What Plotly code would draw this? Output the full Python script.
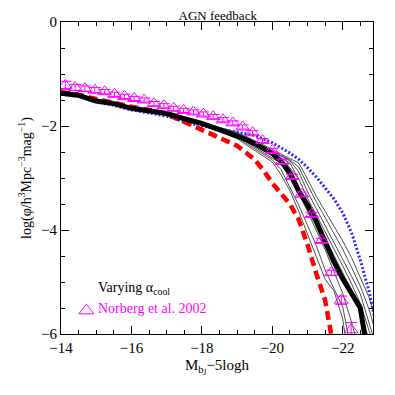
import plotly.graph_objects as go

# model magnitude grid (M_bJ - 5 log h)
mags = [-14.0, -14.5, -15.0, -15.5, -16.0, -16.5, -17.0, -17.5, -18.0, -18.5,
        -19.0, -19.25, -19.5, -19.75, -20.0, -20.25, -20.5, -20.75, -21.0,
        -21.25, -21.5, -21.75, -22.0, -22.25, -22.5, -22.75, -23.0]

# fiducial model (thick black)
lf_fiducial = [-1.37, -1.41, -1.52, -1.57, -1.66, -1.71, -1.76, -1.86, -1.95, -2.07,
               -2.19, -2.26, -2.34, -2.43, -2.53, -2.68, -2.90, -3.25, -3.52,
               -3.84, -4.25, -4.61, -4.94, -5.23, -5.50, -6.55, -7.50]

# red dashed model
lf_red = [-1.35, -1.40, -1.48, -1.56, -1.63, -1.69, -1.77, -1.92, -2.07, -2.22,
          -2.38, -2.51, -2.65, -2.85, -3.10, -3.30, -3.50, -3.80, -4.28,
          -4.84, -5.35, -6.30, -7.20, -8.0, -8.0, -8.0, -8.0]

# blue dotted model
lf_blue = [-1.39, -1.43, -1.54, -1.60, -1.69, -1.75, -1.81, -1.92, -2.00, -2.06,
           -2.12, -2.15, -2.18, -2.25, -2.32, -2.42, -2.52, -2.64, -2.80,
           -2.98, -3.18, -3.40, -3.67, -4.05, -4.58, -5.18, -6.00]

# thin lines: varying alpha_cool
lf_alpha = [
    [-1.37, -1.42, -1.53, -1.58, -1.67, -1.72, -1.78, -1.89, -1.99, -2.11,
     -2.24, -2.36, -2.47, -2.58, -2.69, -2.94, -3.24, -3.64, -4.09,
     -4.53, -4.95, -5.17, -5.71, -6.90, -8.0, -8.0, -8.0],
    [-1.37, -1.42, -1.52, -1.58, -1.67, -1.72, -1.77, -1.88, -1.98, -2.10,
     -2.22, -2.33, -2.44, -2.54, -2.65, -2.84, -3.17, -3.52, -3.91,
     -4.30, -4.77, -5.12, -5.48, -6.35, -7.20, -8.0, -8.0],
    [-1.37, -1.41, -1.52, -1.57, -1.66, -1.71, -1.77, -1.87, -1.97, -2.09,
     -2.20, -2.30, -2.41, -2.51, -2.62, -2.72, -3.01, -3.29, -3.64,
     -4.01, -4.38, -4.80, -5.22, -5.77, -6.35, -7.0, -8.0],
    [-1.36, -1.41, -1.52, -1.57, -1.66, -1.71, -1.76, -1.86, -1.96, -2.07,
     -2.18, -2.27, -2.37, -2.46, -2.55, -2.65, -2.80, -3.17, -3.52,
     -3.83, -4.15, -4.48, -4.82, -5.16, -5.60, -6.10, -7.0],
    [-1.36, -1.41, -1.51, -1.57, -1.65, -1.70, -1.76, -1.85, -1.95, -2.06,
     -2.16, -2.25, -2.34, -2.43, -2.52, -2.62, -2.71, -3.02, -3.39,
     -3.71, -4.03, -4.35, -4.69, -5.03, -5.41, -5.94, -6.50],
    [-1.36, -1.40, -1.51, -1.56, -1.65, -1.70, -1.75, -1.85, -1.94, -2.05,
     -2.15, -2.23, -2.32, -2.41, -2.50, -2.58, -2.67, -2.88, -3.26,
     -3.59, -3.91, -4.23, -4.56, -4.89, -5.23, -5.77, -6.35],
    [-1.36, -1.40, -1.51, -1.56, -1.65, -1.70, -1.75, -1.84, -1.93, -2.04,
     -2.13, -2.22, -2.30, -2.39, -2.48, -2.56, -2.65, -2.79, -3.13,
     -3.46, -3.76, -4.07, -4.37, -4.72, -5.08, -5.53, -6.12],
    [-1.35, -1.40, -1.50, -1.56, -1.64, -1.69, -1.74, -1.84, -1.93, -2.03,
     -2.12, -2.20, -2.28, -2.37, -2.45, -2.54, -2.62, -2.71, -3.02,
     -3.35, -3.64, -3.92, -4.21, -4.53, -4.92, -5.30, -5.88],
]

# Norberg et al. 2002 data
norberg_mag = [-14.12, -14.40, -14.68, -14.96, -15.24, -15.52, -15.80, -16.08,
               -16.36, -16.64, -16.92, -17.20, -17.48, -17.76, -18.04, -18.32,
               -18.60, -18.88, -19.16, -19.44, -19.72, -20.00, -20.28, -20.56,
               -20.84, -21.12, -21.40, -21.68, -21.96, -22.24]
norberg_phi = [-1.22, -1.26, -1.28, -1.31, -1.34, -1.39, -1.43, -1.47,
               -1.50, -1.57, -1.61, -1.66, -1.70, -1.73, -1.77, -1.82,
               -1.88, -1.94, -2.02, -2.13, -2.28, -2.47, -2.68, -2.97,
               -3.31, -3.70, -4.20, -4.82, -5.35, -5.92]
norberg_err = [0.08, 0.06, 0.05, 0.05, 0.04, 0.04, 0.04, 0.04,
               0.04, 0.04, 0.04, 0.04, 0.04, 0.04, 0.04, 0.04,
               0.04, 0.04, 0.04, 0.04, 0.04, 0.04, 0.04, 0.04,
               0.04, 0.04, 0.04, 0.05, 0.08, 0.14]

legend_key_mag = [-14.72]
legend_key_phi = [-5.55]

SERIF = "Liberation Serif, Times New Roman, serif"
MAGENTA = "#ff00ff"

fig = go.Figure()

for ys in lf_alpha:
    fig.add_trace(go.Scatter(x=mags, y=ys, mode="lines",
                             line=dict(color="#505050", width=1)))

fig.add_trace(go.Scatter(x=mags, y=lf_blue, mode="lines",
                         line=dict(color="#2a2aff", width=3, dash="2px,2px")))
fig.add_trace(go.Scatter(x=mags, y=lf_red, mode="lines",
                         line=dict(color="#ff0000", width=4.5, dash="9px,5px")))
fig.add_trace(go.Scatter(x=mags, y=lf_fiducial, mode="lines",
                         line=dict(color="black", width=5)))

fig.add_trace(go.Scatter(
    x=norberg_mag, y=norberg_phi, mode="markers",
    marker=dict(symbol="triangle-up-open", size=12, color=MAGENTA,
                line=dict(width=1, color=MAGENTA)),
    error_y=dict(type="data", array=norberg_err, color=MAGENTA,
                 thickness=1, width=6),
    cliponaxis=True,
))
fig.add_trace(go.Scatter(
    x=legend_key_mag, y=legend_key_phi, mode="markers",
    marker=dict(symbol="triangle-up-open", size=13, color=MAGENTA,
                line=dict(width=1, color=MAGENTA)),
))

fig.add_annotation(x=-15.0, y=-5.12, xref="x", yref="y", xanchor="left",
                   yanchor="middle", showarrow=False,
                   text="Varying α<sub>cool</sub>",
                   font=dict(family=SERIF, size=14, color="black"))
fig.add_annotation(x=-15.0, y=-5.5, xref="x", yref="y", xanchor="left",
                   yanchor="middle", showarrow=False,
                   text="Norberg et al. 2002",
                   font=dict(family=SERIF, size=14, color=MAGENTA))

axis_common = dict(
    showgrid=False, zeroline=False, showline=True, linecolor="black",
    linewidth=1, mirror="allticks", ticks="inside", ticklen=8,
    tickcolor="black", tickfont=dict(family=SERIF, size=15, color="black"),
    minor=dict(ticks="inside", ticklen=4, dtick=0.5, tickcolor="black"),
    automargin=False,
)

fig.update_xaxes(range=[-14, -22.86], tick0=-14, dtick=2,
                 title=dict(text="M<sub>b<sub>J</sub></sub>−5logh",
                            font=dict(family=SERIF, size=15, color="black"),
                            standoff=4),
                 **axis_common)
fig.update_yaxes(range=[-6, 0], tick0=0, dtick=2,
                 title=dict(text="log(φ/h<sup>3</sup>Mpc<sup>−3</sup>mag<sup>−1</sup>)",
                            font=dict(family=SERIF, size=14, color="black"),
                            standoff=6),
                 **axis_common)

# page body adds an 8px offset, so the figure is sized to fit the window
fig.update_layout(
    width=387, height=387,
    margin=dict(l=53, r=22, t=14, b=61, autoexpand=False),
    paper_bgcolor="white", plot_bgcolor="white",
    showlegend=False,
    title=dict(text="AGN feedback", x=0.542, xanchor="center", y=0.992,
               yanchor="top", pad=dict(t=0),
               font=dict(family=SERIF, size=13, color="black")),
)

fig.write_html("out.html")
